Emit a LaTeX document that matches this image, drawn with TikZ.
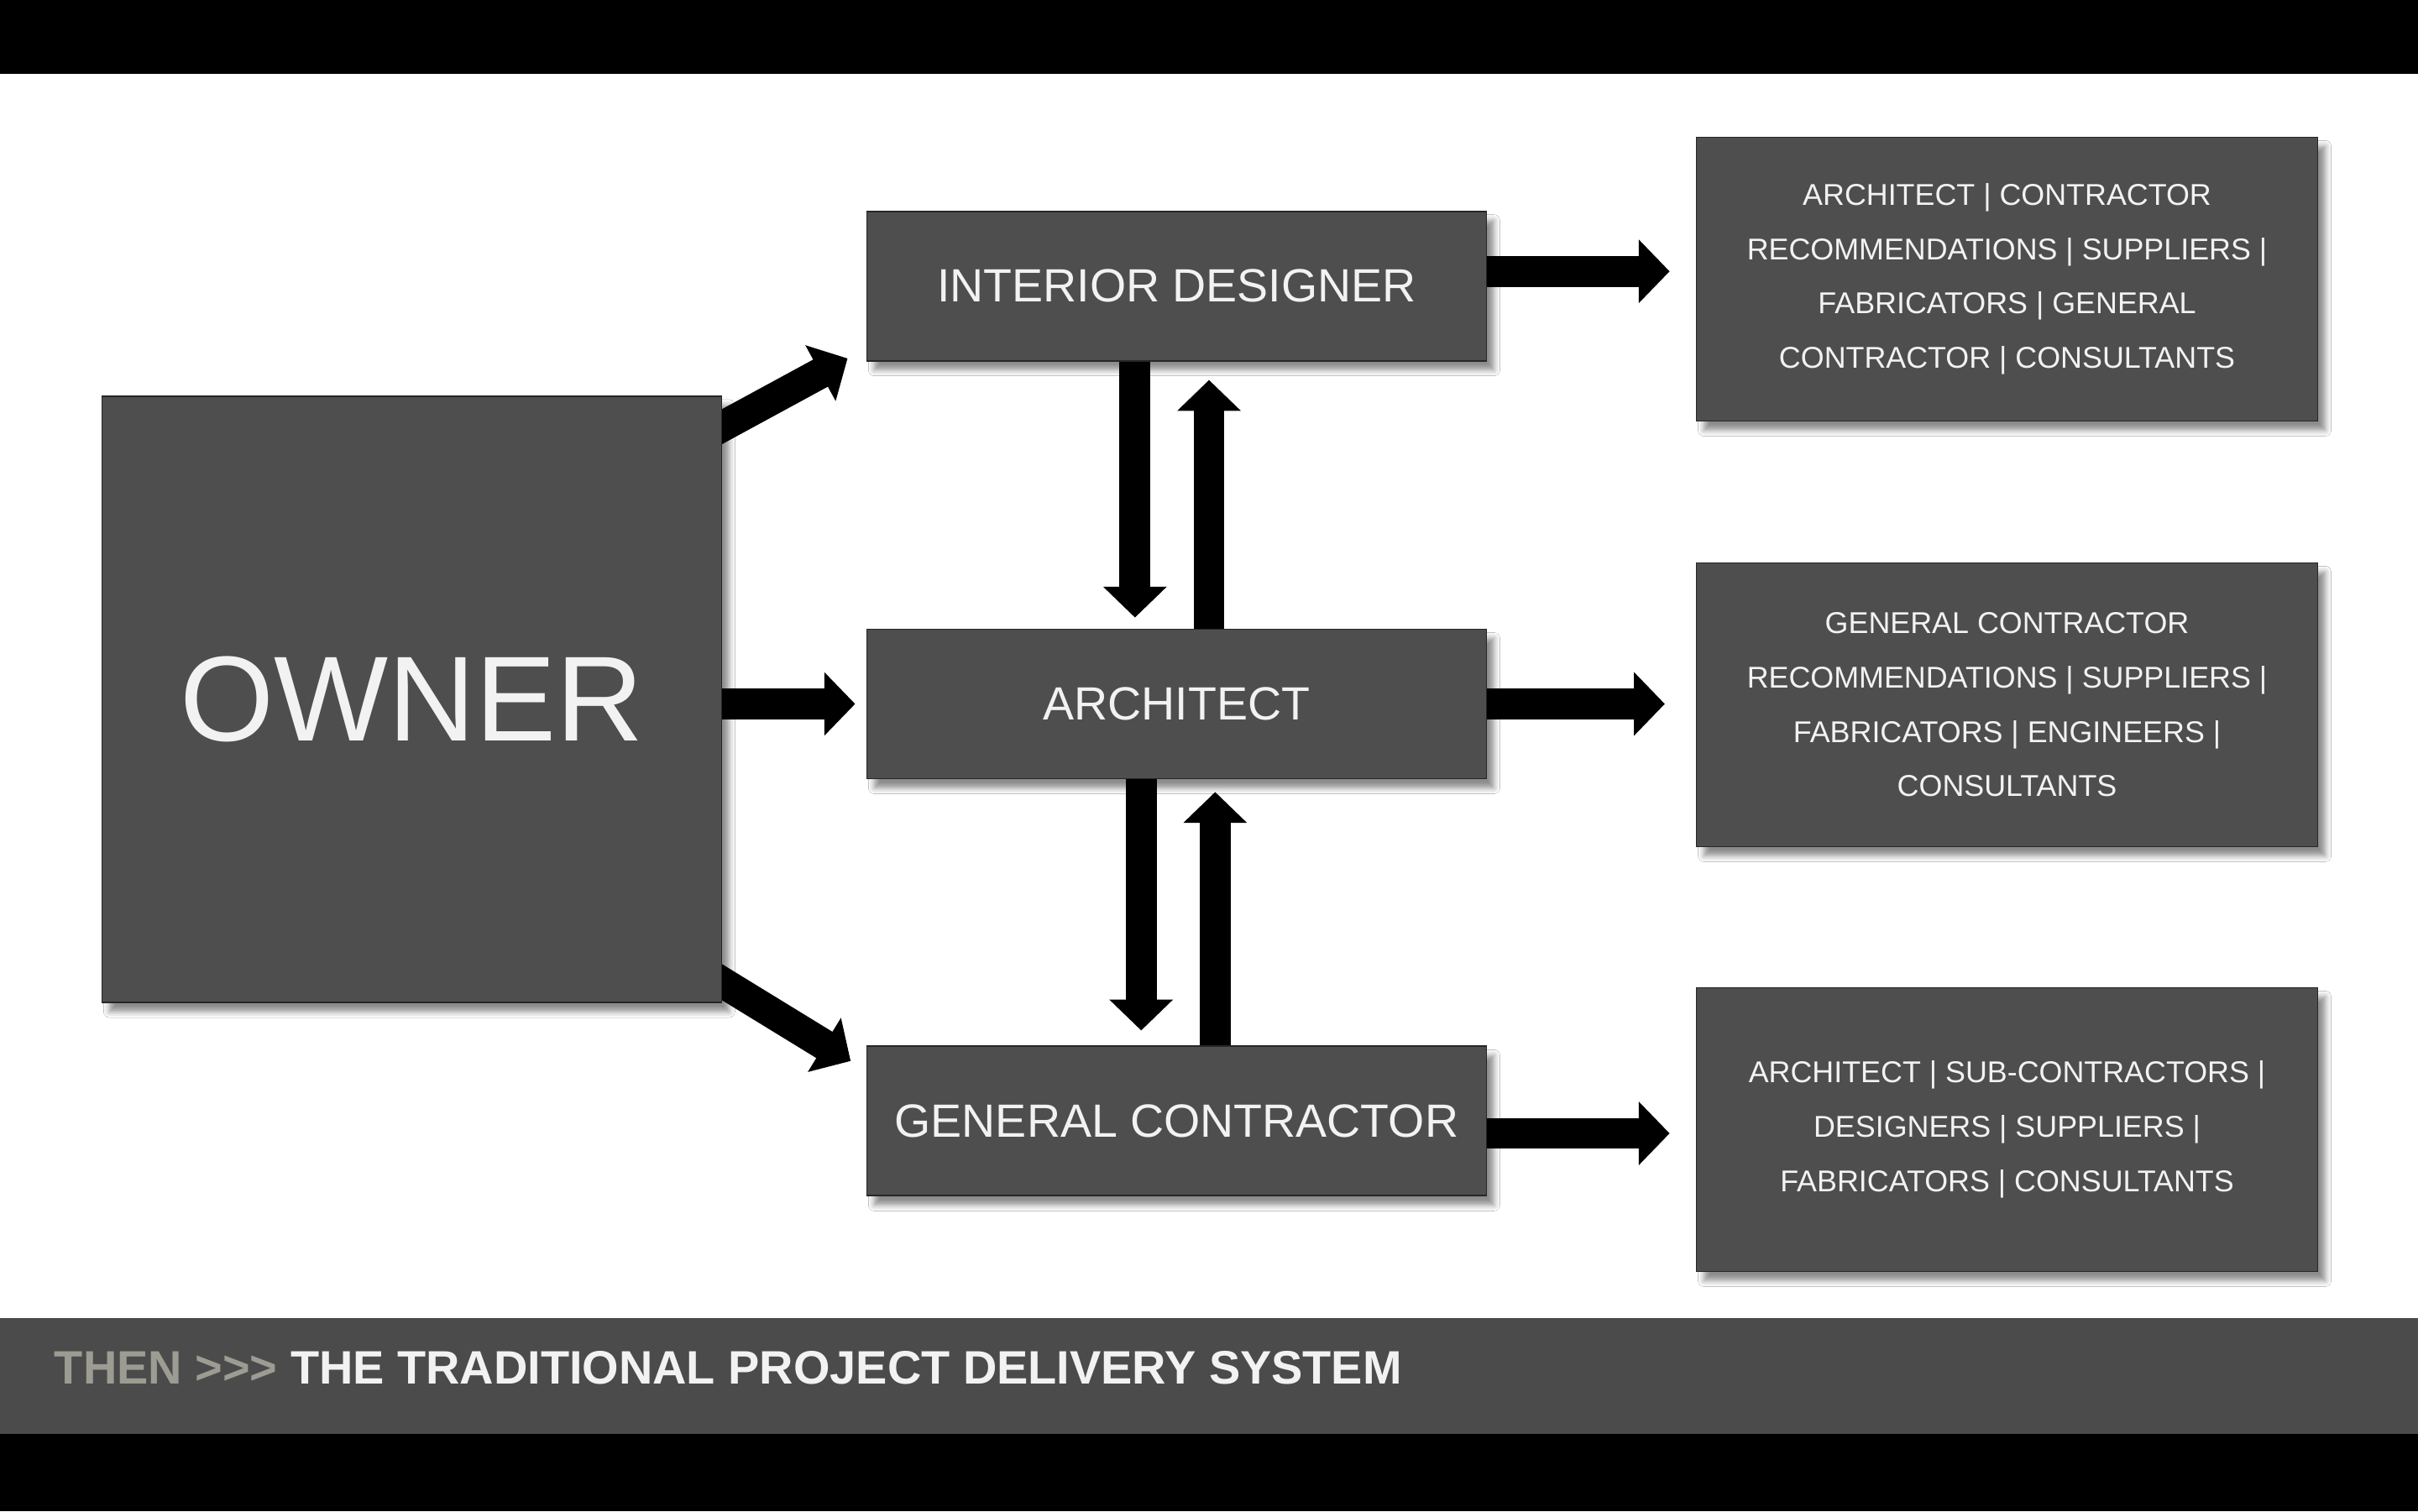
\documentclass[tikz,border=0pt]{standalone}
\usepackage{fontspec}
\setmainfont{Liberation Sans}
\usepackage{xcolor}
\usetikzlibrary{arrows.meta, positioning, shadows.blur, backgrounds, calc}
\definecolor{panelgray}{HTML}{4E4E4E}
\definecolor{bandgray}{HTML}{4B4B4B}
\definecolor{thengray}{HTML}{9C9C93}
\definecolor{textwhite}{HTML}{F2F2F2}
\tikzstyle{panel} = [
    draw=black!85,
    line width=0.5pt,
    fill=panelgray,
    text=textwhite,
    minimum width=73.8mm,
    minimum height=17.8mm,
    inner sep=0pt,
    blur shadow={shadow xshift=0.9mm, shadow yshift=-1.1mm, shadow blur radius=0.7mm, shadow opacity=45},
    font=\fontsize{15.8}{19}\selectfont
]
\tikzstyle{listpanel} = [
    panel,
    minimum width=74mm,
    minimum height=33.8mm,
    align=center,
    font=\fontsize{10.2}{18.4}\selectfont
]
\tikzstyle{blockarrow} = [
    line width=3.67mm,
    -{Triangle[length=3.67mm, width=7.35mm]},
    draw=black
]

\begin{document}
\begin{tikzpicture}[x=0.18367mm, y=-0.18367mm]
\useasboundingbox (0,0) rectangle (1568,980);
% Slide bars
\fill[black] (0,0) rectangle (1568,48);
\fill[bandgray] (0,855) rectangle (1568,930);
\fill[black] (0,930) rectangle (1568,980);

% Owner and the three parties
\node[panel, minimum height=72.2mm, font=\fontsize{41}{48}\selectfont] (owner) at (267,453.5) {OWNER};
\node[panel] (id) at (763,185.5) {INTERIOR DESIGNER};
\node[panel] (arch) at (763,456.5) {ARCHITECT};
\node[panel] (gc) at (763,727) {GENERAL CONTRACTOR};

% What each party brings in
\node[listpanel] (idlist) at (1301.5,181) {ARCHITECT | CONTRACTOR\\RECOMMENDATIONS | SUPPLIERS |\\FABRICATORS | GENERAL\\CONTRACTOR | CONSULTANTS};
\node[listpanel] (archlist) at (1301.5,457) {GENERAL CONTRACTOR\\RECOMMENDATIONS | SUPPLIERS |\\FABRICATORS | ENGINEERS |\\CONSULTANTS};
\node[listpanel] (gclist) at (1301.5,732.5) {ARCHITECT | SUB-CONTRACTORS |\\DESIGNERS | SUPPLIERS |\\FABRICATORS | CONSULTANTS};

% Caption in the band
\node[anchor=west, inner sep=0pt, text=textwhite, font=\bfseries\fontsize{15.9}{19}\selectfont] (title) at (35,887) {\textcolor{thengray}{THEN >{}>{}>} THE TRADITIONAL PROJECT DELIVERY SYSTEM};

% Owner arrows (behind the boxes)
\begin{scope}[on background layer]
\fill[white] (0,48) rectangle (1568,855);
\draw[blockarrow] ($(owner.north east)+(-9,25)$) -- ($(id.south west)+(-12,-2)$);
\draw[blockarrow, shorten >=1.3mm] ($(owner.east)+(-5,3)$) -- (arch.west);
\draw[blockarrow] ($(owner.south east)+(-9,-19)$) -- ($(gc.north west)+(-10,10)$);
\end{scope}

% Up and down between the parties
\draw[blockarrow, shorten >=1.3mm] ([xshift=-4.96mm]id.south) -- ([xshift=-4.96mm]arch.north);
\draw[blockarrow, shorten >=2.2mm] ([xshift=3.86mm]arch.north) -- ([xshift=3.86mm]id.south);
\draw[blockarrow, shorten >=1.8mm] ([xshift=-4.22mm]arch.south) -- ([xshift=-4.22mm]gc.north);
\draw[blockarrow, shorten >=1.5mm] ([xshift=4.59mm]gc.north) -- ([xshift=4.59mm]arch.south);

% Out to the lists
\draw[blockarrow, shorten >=3.1mm] ([yshift=1.75mm]id.east) -- ([yshift=1.75mm]id.east -| idlist.west);
\draw[blockarrow, shorten >=3.67mm] (arch.east) -- (arch.east -| archlist.west);
\draw[blockarrow, shorten >=3.1mm] ([yshift=-1.47mm]gc.east) -- ([yshift=-1.47mm]gc.east -| gclist.west);
\end{tikzpicture}
\end{document}
